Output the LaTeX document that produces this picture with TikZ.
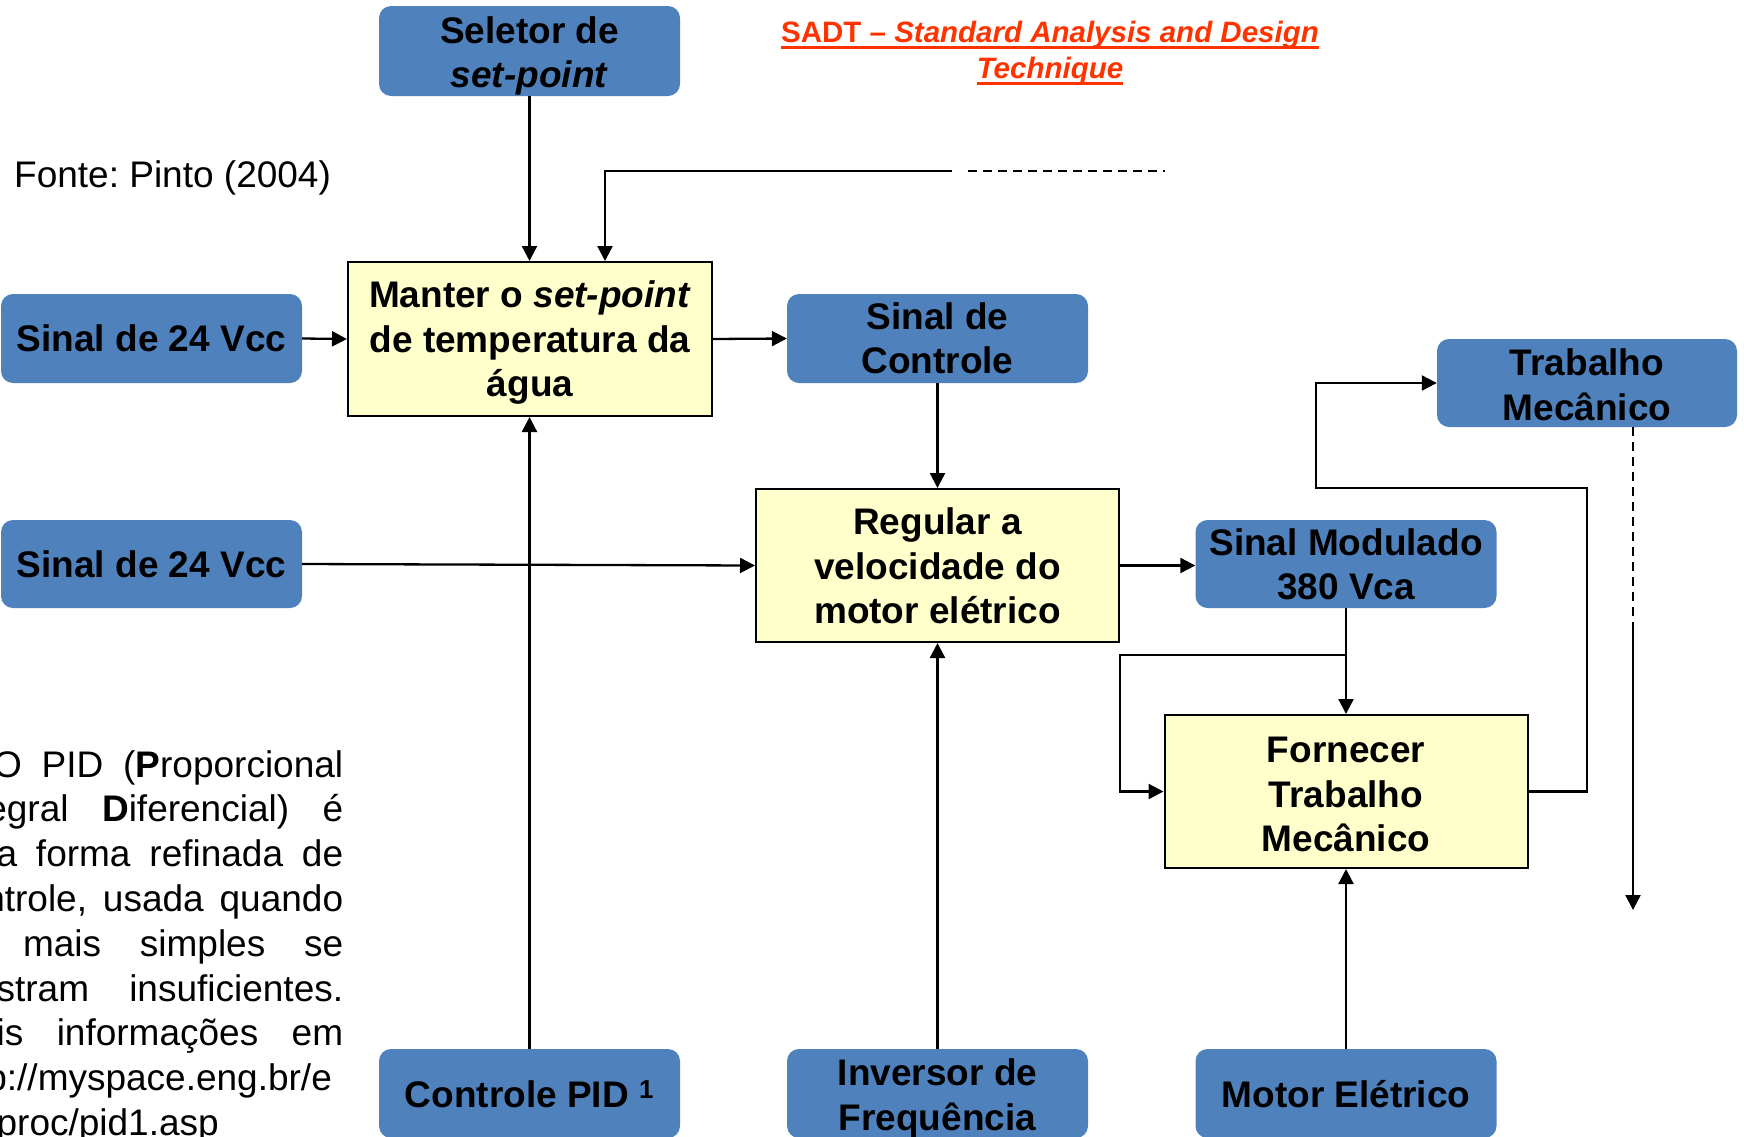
\documentclass[tikz,border=0pt]{standalone}
\usepackage{fontspec}
\setmainfont{Liberation Sans}
\usetikzlibrary{arrows.meta}
\frenchspacing

\definecolor{boxblue}{HTML}{4F81BD}
\definecolor{boxyellow}{HTML}{FFFFCC}
\definecolor{titlered}{HTML}{FF3300}

\newcommand{\sadtfont}{\fontsize{37}{44.5}\selectfont\bfseries}
\newcommand{\notefont}{\fontsize{37}{44.8}\selectfont}
\newcommand{\headfont}{\fontsize{29.5}{36}\selectfont\bfseries}

\begin{document}
\begin{tikzpicture}[x=1pt,y=-1pt,
  datum/.style={fill=boxblue, draw=none, rounded corners=12pt,
    minimum width=301pt, minimum height=89pt, inner sep=0pt},
  activity/.style={fill=boxyellow, draw=black, line width=2pt,
    minimum width=363pt, minimum height=153pt, inner sep=0pt},
  % box caption, optionally lowered a little inside its box
  says/.style 2 args={label={[align=center, font=\sadtfont, inner sep=0pt,
    yshift=-#1pt]center:{#2}}},
  flow/.style={line width=2.3pt, -{Triangle[length=15pt,width=15pt]}},
  pending/.style={line width=1.6pt, dash pattern=on 9pt off 6pt},
  heading/.style={text=titlered, font=\headfont, inner sep=0pt, anchor=base},
  underbar/.style={draw=titlered, line width=3pt}
]
\useasboundingbox (0,0) rectangle (1744,1136);
\clip (0,0) rectangle (1744,1136);

% heading
\node[heading] (t1) at (1050,42) {SADT -- \textit{Standard Analysis and Design}};
\node[heading] (t2) at (1050,78) {\textit{Technique}};
\draw[underbar] ([yshift=-5pt]t1.base west) -- ([yshift=-5pt]t1.base east);
\draw[underbar] ([yshift=-5pt]t2.base west) -- ([yshift=-5pt]t2.base east);

% source and footnote
\node[anchor=west, inner sep=0pt, font=\notefont] (src) at (14,178) {Fonte: Pinto (2004)};
\node[anchor=north west, inner sep=0pt, text width=398pt, align=justify, font=\notefont] (note) at (-55,750)
 {\hspace*{48pt}O PID (\textbf{P}roporcional \linebreak Integral \textbf{D}iferencial) é \linebreak uma forma refinada de \linebreak controle, usada quando \linebreak as mais simples se \linebreak mostram insuficientes. \linebreak Mais informações em \linebreak http://myspace.eng.br/e\linebreak ng/proc/pid1.asp};

% activities
\node[activity, minimum width=364pt, minimum height=154pt,
      says={4}{Manter o \textit{set-point}\\de temperatura da\\água}] (man) at (530,339) {};
\node[activity, says={0.5}{Regular a\\velocidade do\\motor elétrico}] (reg) at (937.5,565.5) {};
\node[activity, says={3}{Fornecer\\Trabalho\\Mecânico}] (forn) at (1346,791.5) {};

% data
\node[datum, minimum height=90pt, says={5}{Seletor de\\\textit{set-point}}] (sel) at (529.5,51) {};
\node[datum, says={0}{Sinal de 24 Vcc}] (s1) at (151.5,338.5) {};
\node[datum, minimum height=88pt, says={0}{Sinal de 24 Vcc}] (s2) at (151.5,564) {};
\node[datum, says={0}{Sinal de\\Controle}] (sc) at (937.5,338.5) {};
\node[datum, minimum height=88pt, says={0.5}{Sinal Modulado\\380 Vca}] (sm) at (1346,564) {};
\node[datum, minimum width=300pt, minimum height=88pt, says={2}{Trabalho\\Mecânico}] (tm) at (1587,383) {};
\node[datum, says={1}{Controle PID \textsuperscript{1}}] (pid) at (529.5,1093.5) {};
\node[datum, says={5}{Inversor de\\Frequência}] (inv) at (937.5,1093.5) {};
\node[datum, says={1}{Motor Elétrico}] (mot) at (1346,1093.5) {};

% helper points
\coordinate (fbR) at (952,171);
\coordinate (fbL) at (605,171);
\coordinate (dA)  at (968,171);
\coordinate (dB)  at (1165,171);
\coordinate (br)  at (1346,655);
\coordinate (brL) at (1120,655);
\coordinate (rA)  at (1587,488);
\coordinate (rB)  at (1316,488);
\coordinate (oA)  at (1633,623);
\coordinate (oB)  at (1633,910);

% connectors
\draw[flow] (sel.south) -- (sel.south |- man.north);
\draw[flow] (fbR) -- (fbL) -- (fbL |- man.north);
\draw[pending, line width=1.8pt] (dA) -- (dB);
\draw[flow] (s1.east) -- (man.west);
\draw[flow] (man.east) -- (sc.west);
\draw[flow] (sc.south) -- (reg.north);
\draw[flow] (s2.east) -- (reg.west);
\draw[flow] (pid.north) -- (pid.north |- man.south);
\draw[flow] (inv.north) -- (reg.south);
\draw[flow] (reg.east) -- (reg.east -| sm.west);
\draw[flow] (sm.south) -- (forn.north);
\draw[flow] (br) -- (brL) -- (brL |- forn.west) -- (forn.west);
\draw[flow] (forn.east) -- (forn.east -| rA) -- (rA) -- (rB) -- (rB |- tm.west) -- (tm.west);
\draw[pending] (oA |- tm.south) -- (oA);
\draw[flow] (oA) -- (oB);
\draw[flow] (mot.north) -- (forn.south);
\end{tikzpicture}
\end{document}
